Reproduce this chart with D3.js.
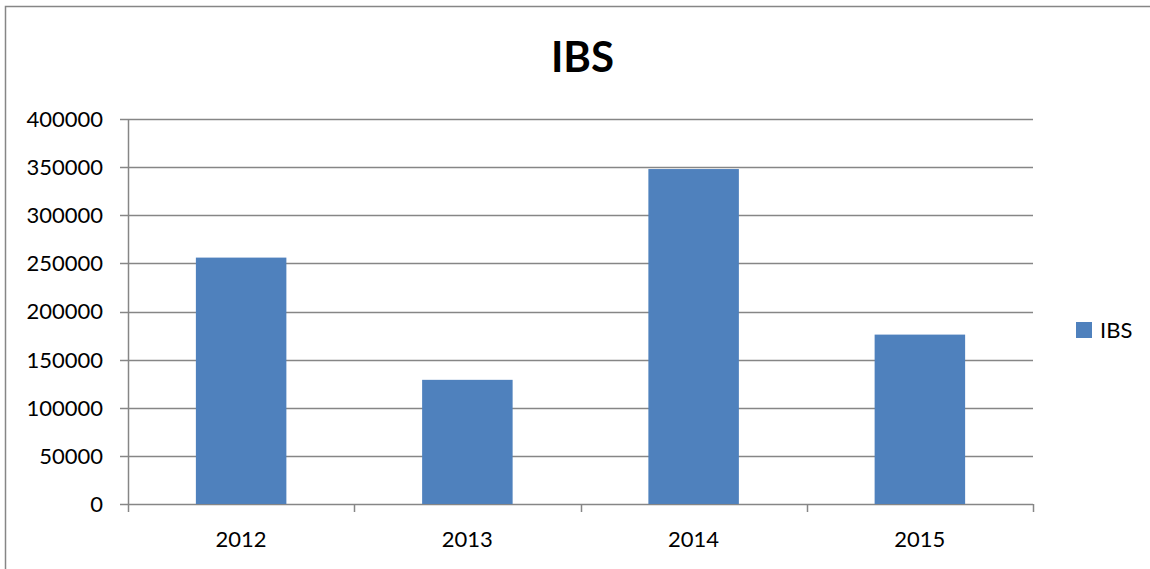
<!DOCTYPE html>
<html><head><meta charset="utf-8">
<script src="https://cdn.jsdelivr.net/npm/d3@7"></script>
<style>body{margin:0;background:#fff}svg{display:block}text{font-family:Lato,"Open Sans",sans-serif}</style>
</head><body><svg id="c" width="1150" height="569"></svg>
<script>
const categories = ["2012","2013","2014","2015"];
const values = [256000,129000,348000,176000];
const yTicks = [0,50000,100000,150000,200000,250000,300000,350000,400000];
const seriesName = "IBS";

const svg = d3.select("#c");
const m = {l:128, r:1033, t:119, b:504};
svg.append("rect").attr("x",5.5).attr("y",6.5).attr("width",1160).attr("height",580)
  .attr("fill","#fff").attr("stroke","#868686").attr("stroke-width",1.5);

const x = d3.scaleBand().domain(categories).range([m.l,m.r]).paddingInner(0.6).paddingOuter(0.3);
const xb = d3.scaleBand().domain(categories).range([m.l,m.r]);
const y = d3.scaleLinear().domain([0,400000]).range([m.b,m.t]);

// gridlines
svg.append("g").selectAll("line").data(yTicks).join("line")
  .attr("x1",m.l-8).attr("x2",m.r).attr("y1",d=>Math.round(y(d))+0.5).attr("y2",d=>Math.round(y(d))+0.5)
  .attr("stroke","#868686").attr("stroke-width",1.5);
// y axis line
svg.append("line").attr("x1",m.l+0.5).attr("x2",m.l+0.5).attr("y1",m.t).attr("y2",m.b)
  .attr("stroke","#868686").attr("stroke-width",1.5);
// x tick marks
const bounds = categories.map(c=>xb(c)).concat([m.r]);
svg.append("g").selectAll("line").data(bounds).join("line")
  .attr("x1",d=>Math.round(d)+0.5).attr("x2",d=>Math.round(d)+0.5).attr("y1",m.b).attr("y2",m.b+8)
  .attr("stroke","#868686").attr("stroke-width",1.5);

// bars
svg.append("g").selectAll("rect").data(values).join("rect")
  .attr("x",(d,i)=>x(categories[i])).attr("width",x.bandwidth())
  .attr("y",d=>y(d)).attr("height",d=>m.b-y(d)).attr("fill","#4f81bd");

// y labels
svg.append("g").selectAll("text").data(yTicks).join("text")
  .attr("x",m.l-25).attr("y",d=>y(d)).attr("dy","0.36em").attr("text-anchor","end")
  .attr("font-size",22).attr("fill","#000").text(d=>d);
// x labels
svg.append("g").selectAll("text").data(categories).join("text")
  .attr("x",d=>xb(d)+xb.bandwidth()/2).attr("y",547).attr("text-anchor","middle")
  .attr("font-size",22).attr("fill","#000").text(d=>d);

// title
svg.append("text").attr("x",582.5).attr("y",72).attr("text-anchor","middle")
  .attr("font-size",42).attr("font-weight","bold").text(seriesName);

// legend
svg.append("rect").attr("x",1076).attr("y",322).attr("width",16).attr("height",16).attr("fill","#4f81bd");
svg.append("text").attr("x",1100).attr("y",338).attr("font-size",22).text(seriesName);
</script></body></html>
